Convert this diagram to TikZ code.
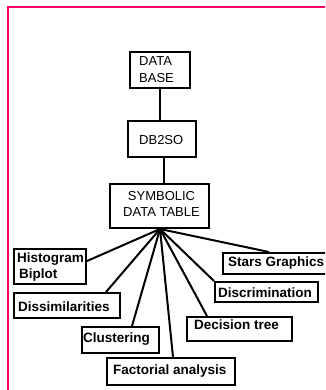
\documentclass[tikz,border=0pt]{standalone}
\usepackage{fontspec}
\setmainfont{Liberation Sans}
\usetikzlibrary{fit}
\definecolor{frame}{RGB}{255,0,102}
\begin{document}
\begin{tikzpicture}[x=1pt,y=-1pt,
  box/.style={draw=black,line width=2pt,inner sep=0pt,rectangle},
  toplbl/.style={inner sep=0pt,anchor=base west,font=\fontsize{13}{15}\selectfont},
  toolbl/.style={inner sep=0pt,anchor=base west,font=\fontsize{13.5}{16}\selectfont\bfseries},
  link/.style={draw=black,line width=2pt}]
\useasboundingbox (0,0) rectangle (325,390);
\clip (0,0) rectangle (325,390);
% page frame
\draw[frame,line width=1.2pt] (8,392) -- (8,7) -- (327,7);

% main chain
\node[box,fit={(130,52) (190,88)}] (db) {};
\node[toplbl] (dbA) at (139,66) {DATA};
\node[toplbl] (dbB) at (139,83) {BASE};

\node[box,fit={(128,121) (196,157)}] (conv) {};
\node[toplbl] (convT) at (139,145) {DB2SO};

\node[box,fit={(110,184) (209,228)}] (sym) {};
\node[toplbl,anchor=base] (symA) at (161.5,200) {SYMBOLIC};
\node[toplbl,anchor=base] (symB) at (161.5,216) {DATA TABLE};

\draw[link] (db.south) -- (db.south |- conv.north);
\draw[link] ([xshift=2pt]conv.south) -- ([xshift=2pt]conv.south |- sym.north);

% analysis tools
\node[box,fit={(14,249) (86,284)}] (hist) {};
\node[toolbl] (histA) at (17,262) {Histogram};
\node[toolbl] (histB) at (19,278) {Biplot};

\node[box,fit={(14,293) (120,318)}] (diss) {};
\node[toolbl] (dissT) at (18,311) {Dissimilarities};

\node[box,fit={(82,327) (159,353)}] (clus) {};
\node[toolbl] (clusT) at (83,342) {Clustering};

\node[box,fit={(107,358) (235,385)}] (fact) {};
\node[toolbl] (factT) at (113,374) {Factorial analysis};

\node[box,fit={(187,317) (292,341)}] (dec) {};
\node[toolbl] (decT) at (194,329) {Decision tree};

\node[box,fit={(215,282) (318,302)}] (disc) {};
\node[toolbl] (discT) at (218,297) {Discrimination};

\node[box,fit={(223,253) (332,274)}] (stars) {};
\node[toolbl] (starsT) at (228,266) {Stars Graphics};

% fan of links from the table
\coordinate (hub) at (160,229);
\draw[link] (hub) -- ([yshift=5.5pt]hist.east);
\draw[link] (hub) -- ([xshift=-15pt]diss.north east);
\draw[link] (hub) -- ([xshift=11.5pt]clus.north);
\draw[link] (hub) -- ([xshift=2pt]fact.north);
\draw[link] (hub) -- ([xshift=21pt]dec.north west);
\draw[link] (hub) -- (disc.north west);
\draw[link] (hub) -- ([xshift=47pt]stars.north west);
\end{tikzpicture}
\end{document}
